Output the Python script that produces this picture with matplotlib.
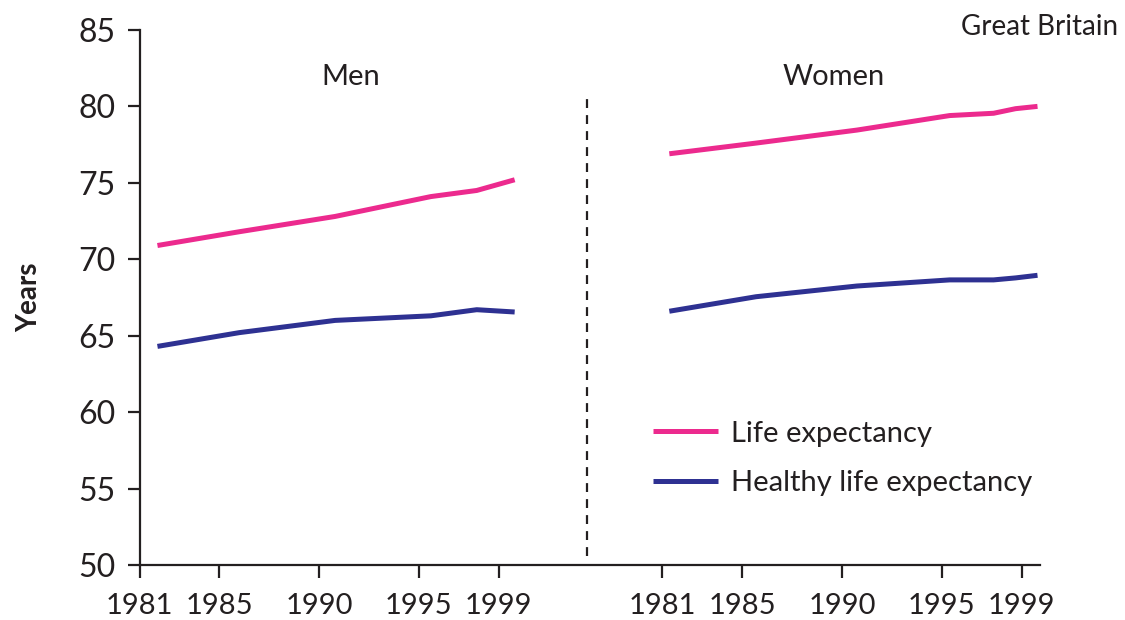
import matplotlib
matplotlib.use('Agg')
import matplotlib.pyplot as plt

plt.rcParams['font.family'] = ['Lato', 'DejaVu Sans']

# year positions (men panel / women panel)
men_years = [1981.9, 1986.0, 1990.8, 1995.6, 1997.9, 1999.8]
men_life = [70.9, 71.8, 72.8, 74.1, 74.5, 75.2]
men_healthy = [64.3, 65.2, 66.0, 66.3, 66.7, 66.55]

women_years = [1981.35, 1985.7, 1990.75, 1995.4, 1997.6, 1998.7, 1999.8]
women_life = [76.9, 77.6, 78.45, 79.4, 79.55, 79.85, 80.0]
women_healthy = [66.6, 67.55, 68.25, 68.65, 68.65, 68.78, 68.95]

tick_years = [1981, 1985, 1990, 1995, 1999]
women_offset = 26.2   # horizontal shift of the women panel
divider = 2003.4

pink = '#EC2A8E'
navy = '#2E3192'
ink = '#231F20'

fig = plt.figure(figsize=(11.25, 6.2), dpi=100)
ax = fig.add_axes([0.124, 0.0887, 0.8, 0.863])

ax.plot(men_years, men_life, color=pink, lw=3.6, solid_capstyle='butt', label='Life expectancy')
ax.plot(men_years, men_healthy, color=navy, lw=3.6, solid_capstyle='butt', label='Healthy life expectancy')
ax.plot([y + women_offset for y in women_years], women_life, color=pink, lw=3.6, solid_capstyle='butt')
ax.plot([y + women_offset for y in women_years], women_healthy, color=navy, lw=3.6, solid_capstyle='butt')

ax.plot([divider, divider], [50.6, 80.8], color=ink, lw=1.6, ls=(0, (4, 3.2)))

ax.set_xlim(1981, 1999.9 + women_offset)
ax.set_ylim(50, 85)
ax.set_yticks(range(50, 86, 5))
ax.set_xticks(tick_years + [y + women_offset for y in tick_years])
ax.set_xticklabels([str(y) for y in tick_years] * 2)

for s in ['top', 'right']:
    ax.spines[s].set_visible(False)
for s in ['left', 'bottom']:
    ax.spines[s].set_linewidth(1.6)
    ax.spines[s].set_color(ink)
ax.tick_params(axis='both', length=9, width=1.6, color=ink, labelcolor=ink)
ax.tick_params(axis='y', labelsize=23, pad=8)
ax.tick_params(axis='x', labelsize=21, pad=11)

ax.set_ylabel('Years', fontweight='bold', fontsize=20, color=ink, labelpad=26)

ax.text(1991.6, 81.9, 'Men', fontsize=21, color=ink, ha='center', va='center')
ax.text(2015.8, 81.9, 'Women', fontsize=21, color=ink, ha='center', va='center')
fig.text(0.994, 0.956, 'Great Britain', fontsize=20, color=ink, ha='right', va='center')

ax.legend(loc='upper left', bbox_to_anchor=(0.57, 0.27), frameon=False, fontsize=21,
          handlelength=2.25, handletextpad=0.45, labelspacing=0.82, borderpad=0,
          borderaxespad=0, labelcolor=ink)

fig.savefig('out.png', dpi=100)
